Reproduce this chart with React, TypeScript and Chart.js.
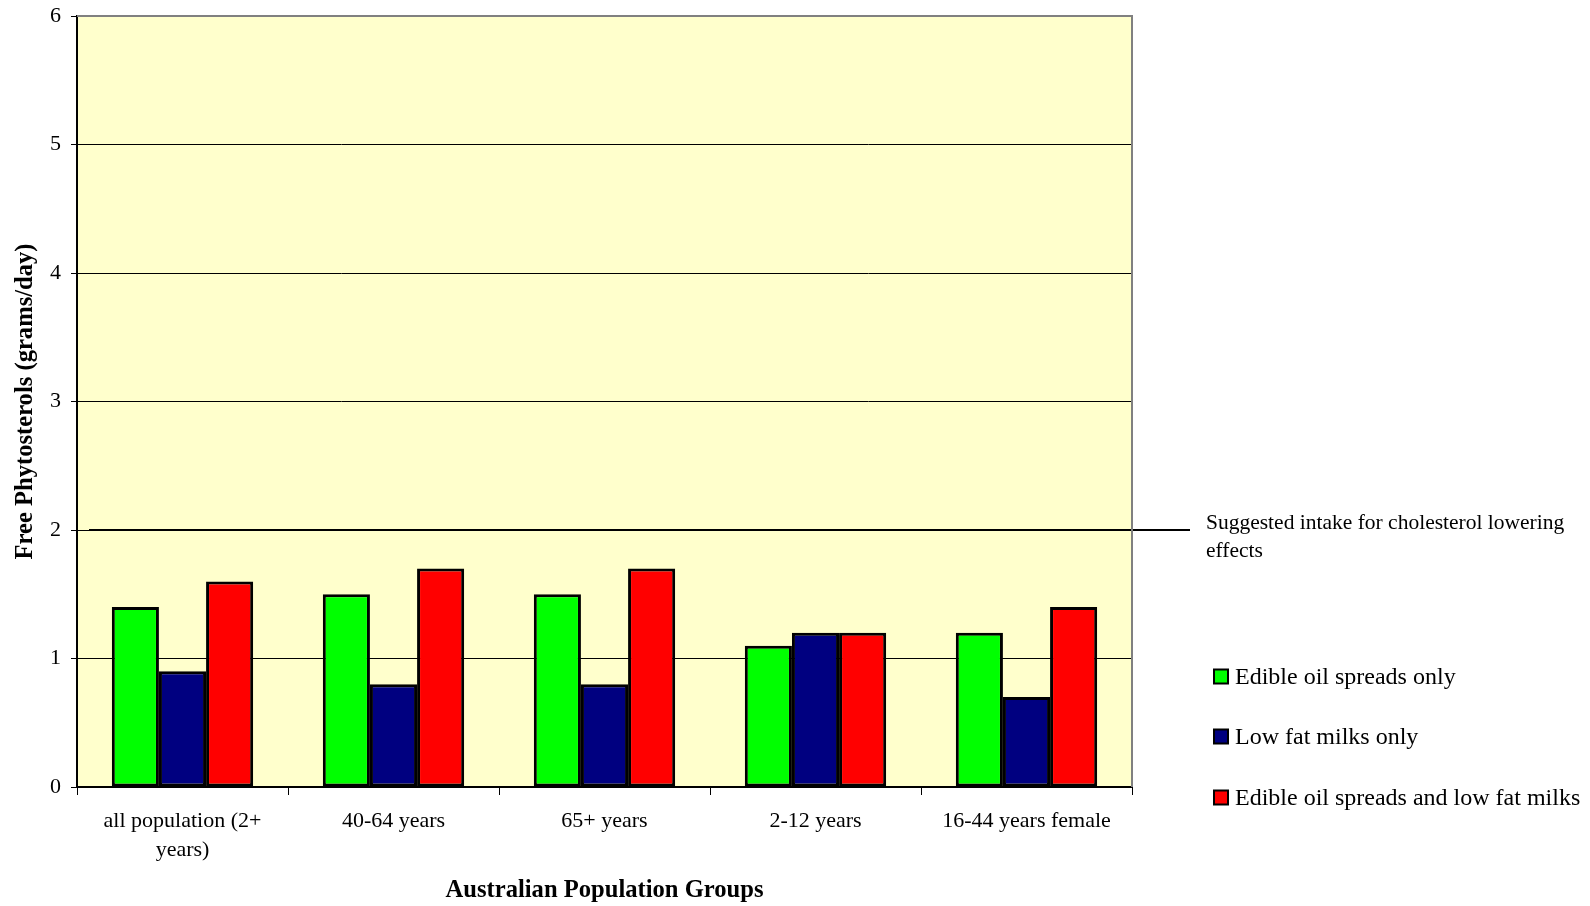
import React, { useEffect, useRef } from "react";
import { Chart, registerables } from "chart.js";

Chart.register(...registerables);

const categories: (string | string[])[] = [
  ["all population (2+", "years)"],
  "40-64 years",
  "65+ years",
  "2-12 years",
  "16-44 years female",
];
const seriesNames = [
  "Edible oil spreads only",
  "Low fat milks only",
  "Edible oil spreads and low fat milks",
];
const spreadsOnly = [1.4, 1.5, 1.5, 1.1, 1.2];
const milksOnly = [0.9, 0.8, 0.8, 1.2, 0.7];
const spreadsAndMilks = [1.6, 1.7, 1.7, 1.2, 1.4];
const seriesColors = ["#00FF00", "#000080", "#FF0000"];
const referenceValue = 2;
const referenceLabel = ["Suggested intake for cholesterol lowering", "effects"];
const yTicks = [0, 1, 2, 3, 4, 5, 6];

const FONT = "'Liberation Serif', 'Times New Roman', serif";

const customPlugin = {
  id: "customDecor",
  beforeDraw(chart: any) {
    const { ctx, chartArea } = chart;
    ctx.save();
    ctx.fillStyle = "#FFFFCC";
    ctx.fillRect(chartArea.left, chartArea.top, chartArea.right - chartArea.left, chartArea.bottom - chartArea.top);
    ctx.restore();
  },
  afterDatasetsDraw(chart: any) {
    const { ctx, chartArea, scales } = chart;
    const y = scales.y.getPixelForValue(referenceValue);
    ctx.save();
    // reference line
    ctx.strokeStyle = "#000000";
    ctx.lineWidth = 2;
    ctx.beginPath();
    ctx.moveTo(chartArea.left + 12, y);
    ctx.lineTo(chartArea.right + 58, y);
    ctx.stroke();
    // border top & right
    ctx.strokeStyle = "#808080";
    ctx.lineWidth = 2;
    ctx.beginPath();
    ctx.moveTo(chartArea.left, chartArea.top);
    ctx.lineTo(chartArea.right, chartArea.top);
    ctx.lineTo(chartArea.right, chartArea.bottom);
    ctx.stroke();
    // annotation text
    ctx.fillStyle = "#000000";
    ctx.font = `21.5px ${FONT}`;
    ctx.textAlign = "left";
    ctx.textBaseline = "middle";
    ctx.fillText(referenceLabel[0], chartArea.right + 74, y - 7);
    ctx.fillText(referenceLabel[1], chartArea.right + 74, y + 21);
    // legend
    const legendY = [chartArea.bottom - 110.5, chartArea.bottom - 50.5, chartArea.bottom + 10.5];
    ctx.font = `24px ${FONT}`;
    chart.data.datasets.forEach((ds: any, i: number) => {
      const ly = legendY[i];
      const lx = chartArea.right + 82;
      ctx.fillStyle = ds.backgroundColor;
      ctx.fillRect(lx, ly - 7, 14, 14);
      ctx.strokeStyle = "#000000";
      ctx.lineWidth = 2;
      ctx.strokeRect(lx, ly - 7, 14, 14);
      ctx.fillStyle = "#000000";
      ctx.fillText(ds.label, lx + 21, ly + 1);
    });
    ctx.restore();
  },
};

export default function App() {
  const canvasRef = useRef<HTMLCanvasElement>(null);
  useEffect(() => {
    if (!canvasRef.current) return;
    const chart = new Chart(canvasRef.current, {
      type: "bar",
      data: {
        labels: categories,
        datasets: [spreadsOnly, milksOnly, spreadsAndMilks].map((d, i) => ({
          label: seriesNames[i],
          data: d,
          backgroundColor: seriesColors[i],
          borderColor: "#000000",
          borderWidth: 3,
          borderSkipped: false,
          categoryPercentage: 0.67,
          barPercentage: 1,
        })),
      },
      options: {
        animation: false,
        responsive: true,
        maintainAspectRatio: false,
        devicePixelRatio: 1,
        layout: { padding: { top: 16, right: 458, left: 0, bottom: 0 } },
        plugins: { legend: { display: false }, tooltip: { enabled: false } },
        scales: {
          x: {
            offset: true,
            grid: {
              offset: true,
              drawOnChartArea: false,
              drawTicks: true,
              tickLength: 8,
              color: "#000000",
              lineWidth: 1,
            },
            border: { display: true, color: "#000000", width: 2 },
            ticks: {
              color: "#000000",
              font: { family: FONT, size: 22, lineHeight: 1.3 },
              padding: 12,
              maxRotation: 0,
              autoSkip: false,
            },
            title: {
              display: true,
              text: "Australian Population Groups",
              color: "#000000",
              font: { family: FONT, size: 24.6, weight: "bold" },
              padding: { top: 0, bottom: 1 },
            },
            afterFit: (scale: any) => {
              scale.height = 119;
              scale.paddingLeft = 0;
              scale.paddingRight = 0;
            },
          },
          y: {
            min: 0,
            max: 6,
            afterBuildTicks: (scale: any) => {
              scale.ticks = yTicks.map((v) => ({ value: v }));
            },
            grid: {
              color: (c: any) => (c.tick && c.tick.value === 6 ? "#808080" : "#000000"),
              lineWidth: 1,
              drawTicks: true,
              tickLength: 6,
              tickColor: "#000000",
            },
            border: { display: true, color: "#000000", width: 2 },
            ticks: {
              color: "#000000",
              font: { family: FONT, size: 22 },
              padding: 10,
            },
            title: {
              display: true,
              text: "Free Phytosterols (grams/day)",
              color: "#000000",
              font: { family: FONT, size: 24.6, weight: "bold" },
              padding: { top: 10.5, bottom: 0 },
            },
            afterFit: (scale: any) => {
              scale.width = 77;
              scale.paddingTop = 0;
              scale.paddingBottom = 0;
            },
          },
        },
      },
      plugins: [customPlugin],
    });
    return () => chart.destroy();
  }, []);
  return (
    <div style={{ position: "fixed", left: 0, top: 0, width: 1590, height: 906, background: "#FFFFFF" }}>
      <canvas ref={canvasRef} />
    </div>
  );
}
